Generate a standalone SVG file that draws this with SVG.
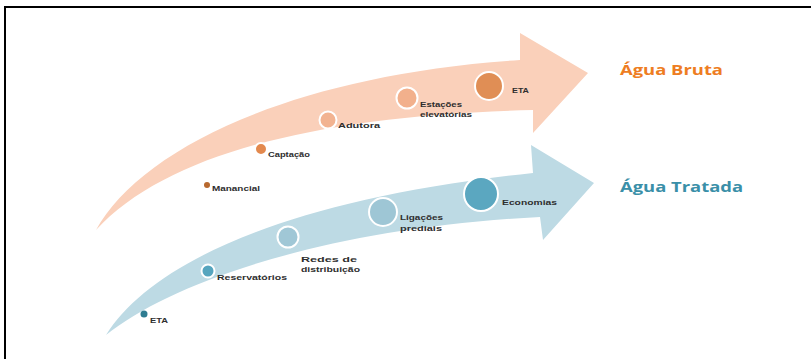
<svg xmlns="http://www.w3.org/2000/svg" width="811" height="359" viewBox="0 0 811 359">
<style>
.lbl{font-family:"Liberation Sans",Arial,sans-serif;font-size:7.5px;font-weight:bold;fill:#2e2e2e}
.ring{stroke:#fff;stroke-width:2}
.hdr{font-family:"Open Sans","Liberation Sans",sans-serif;font-size:15px;font-weight:bold}
</style>
<rect width="811" height="359" fill="#fff"/>
<g id="frame" fill="none" stroke="#000" stroke-width="2">
<path d="M5,359 V7 H811"/>
</g>
<g id="arrows">
<path id="arrow-bruta" fill="#FAD0BA" d="M96,230 C140,150 290,75 520,60 L520,33 L588,73 L533,133 L533,110 C330,115 170,150 96,230 Z"/>
<path id="arrow-tratada" fill="#BDDAE4" d="M106,335 C150,265 280,200 533,173 L531,145 L594,183 L543,240 L540,217 C330,228 175,280 106,335 Z"/>
</g>
<g id="n-manancial"><circle cx="207" cy="185" r="3" fill="#B8692E"/><text class="lbl" x="212" y="191" textLength="48" lengthAdjust="spacingAndGlyphs">Manancial</text></g>
<g id="n-captacao"><circle class="ring" cx="261" cy="149" r="6" fill="#E3894E"/><text class="lbl" x="268" y="157" textLength="42" lengthAdjust="spacingAndGlyphs">Captação</text></g>
<g id="n-adutora"><circle class="ring" cx="328" cy="120" r="8.5" fill="#F2B391"/><text class="lbl" x="338" y="128" textLength="42" lengthAdjust="spacingAndGlyphs">Adutora</text></g>
<g id="n-estacoes"><circle class="ring" cx="407" cy="98" r="10.5" fill="#F2B08C"/><text class="lbl" x="420" y="107" textLength="42" lengthAdjust="spacingAndGlyphs">Estações</text><text class="lbl" x="420" y="117" textLength="52" lengthAdjust="spacingAndGlyphs">elevatórias</text></g>
<g id="n-eta-bruta"><circle class="ring" cx="489" cy="86" r="14" fill="#E08E55"/><text class="lbl" x="512" y="93" textLength="17" lengthAdjust="spacingAndGlyphs">ETA</text></g>
<g id="n-eta-tratada"><circle cx="144" cy="314" r="3.5" fill="#2E7C91"/><text class="lbl" x="150" y="323" textLength="18" lengthAdjust="spacingAndGlyphs">ETA</text></g>
<g id="n-reservatorios"><circle class="ring" cx="208" cy="271" r="6.5" fill="#56A5BE"/><text class="lbl" x="217" y="280" textLength="70" lengthAdjust="spacingAndGlyphs">Reservatórios</text></g>
<g id="n-redes"><circle class="ring" cx="288" cy="237" r="10.5" fill="#A0C7D6"/><text class="lbl" x="301" y="262" textLength="56" lengthAdjust="spacingAndGlyphs">Redes de</text><text class="lbl" x="301" y="272" textLength="59" lengthAdjust="spacingAndGlyphs">distribuição</text></g>
<g id="n-ligacoes"><circle class="ring" cx="383" cy="212" r="14" fill="#9EC6D5"/><text class="lbl" x="400" y="220" textLength="43" lengthAdjust="spacingAndGlyphs">Ligações</text><text class="lbl" x="400" y="231" textLength="42" lengthAdjust="spacingAndGlyphs">prediais</text></g>
<g id="n-economias"><circle class="ring" cx="481" cy="194" r="17" fill="#5BA7C0"/><text class="lbl" x="502" y="205" textLength="55" lengthAdjust="spacingAndGlyphs">Economias</text></g>
<g id="h-bruta"><text class="hdr" x="620" y="75" fill="#EE7D22" textLength="103" lengthAdjust="spacingAndGlyphs">Água Bruta</text></g>
<g id="h-tratada"><text class="hdr" x="620" y="192" fill="#3A8FA8" textLength="123" lengthAdjust="spacingAndGlyphs">Água Tratada</text></g>
</svg>
